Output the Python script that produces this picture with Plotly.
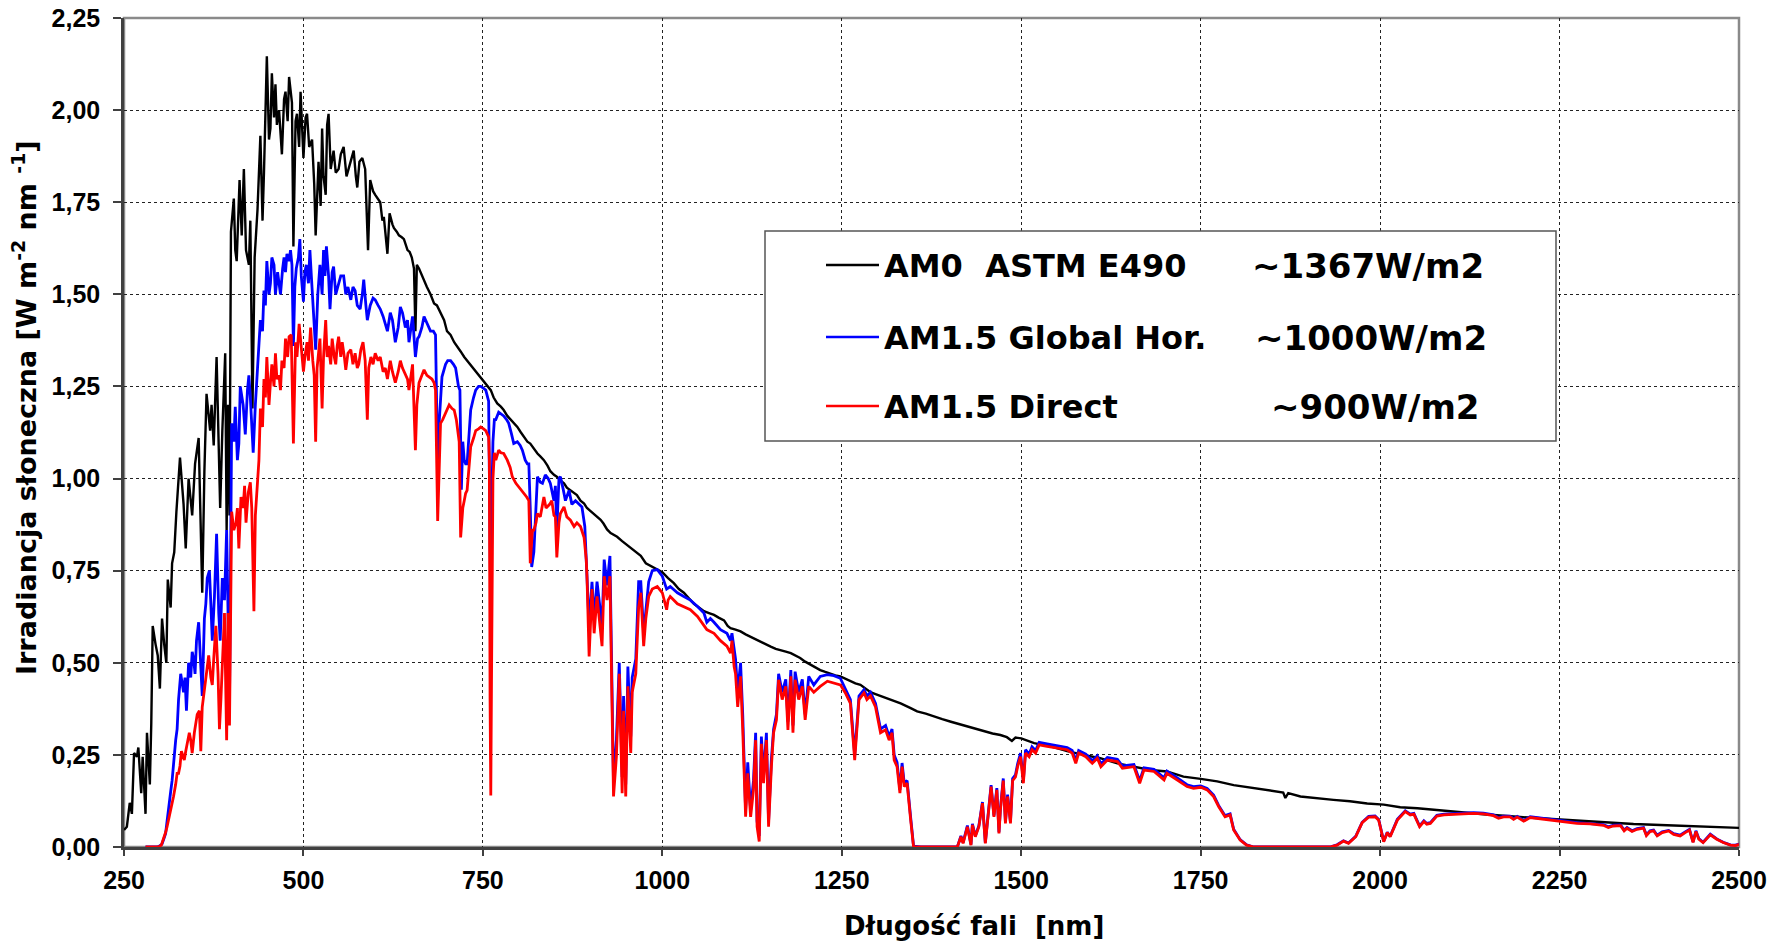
import plotly.graph_objects as go

# ---------------- data (wavelength nm, irradiance W m-2 nm-1) ----------------
AM0_UV = [(250,0.046),(254,0.055),(258,0.12),(261,0.09),(264,0.255),(268,0.245),(270,0.27),(274,0.146),
          (276,0.245),(280,0.09),(282,0.31),(286,0.17),(288,0.336),(290,0.60),(294,0.55),(297,0.52),
          (300,0.43),(303,0.62),(306,0.55),(309,0.50),(311,0.726),(315,0.65),(317,0.77),(320,0.80),
          (323,0.91),(325,0.976),(328,1.057),(333,0.93),(336,0.81),(340,1.0),(345,0.90),(349,1.04),
          (354,1.11),(359,0.69),(362,1.02),(365,1.23),(370,1.13),(372,1.20),(375,1.09),(379,1.33),
          (382,1.04),(384,0.92),(387,1.13),(391,1.34),(393,0.86),(395,1.20),(397,0.90)]
AM0_VIS = [(399,1.67),(403,1.76),(405,1.62),(407,1.59),(411,1.81),(414,1.66),(417,1.84),(420,1.62),
           (424,1.58),(426,1.70),(429,1.19),(432,1.60),(436,1.73),(440,1.93),(443,1.70),(445,1.83),
           (449,2.146),(452,1.92),(454,1.95),(456,2.10),(459,1.98),(461,2.07),(463,1.96),(466,2.00),
           (470,1.88),(473,2.03),(475,2.05),(478,1.97),(480,2.09),(484,2.02),(486,1.63),(489,1.97),
           (491,1.99),(494,1.90),(496,2.05),(500,1.87),(503,1.98),(505,1.99),(508,1.90),(512,1.92),
           (515,1.80),(517,1.66),(519,1.75),(521,1.86),(524,1.74),(526,1.95),(528,1.82),(531,1.77),
           (533,1.96),(535,1.99),(538,1.84),(542,1.89),(545,1.83),(549,1.84),(552,1.88),(556,1.90),
           (560,1.82),(563,1.84),(567,1.87),(570,1.89),(573,1.82),(575,1.79),(578,1.86),(582,1.87),
           (586,1.84),(590,1.62),(593,1.81),(597,1.78),(600,1.77),(604,1.76),(607,1.75),(610,1.70),
           (612,1.71),(617,1.61),(620,1.72),(624,1.69),(626,1.68),(630,1.67),(633,1.66),(637,1.655),
           (640,1.65),(645,1.62),(648,1.615),(651,1.60),(654,1.57),(656,1.40),(658,1.58),(661,1.57),
           (665,1.55),(668,1.54),(672,1.52),(677,1.50),(682,1.475),(686,1.47),(691,1.45),(696,1.43),
           (700,1.40),(705,1.39),(710,1.37),(714,1.36),(719,1.345),(724,1.33),(728,1.32),(733,1.31),
           (738,1.295),(742,1.285),(746,1.275),(751,1.265),(756,1.25),(761,1.24),(765,1.22),(770,1.204),
           (775,1.195),(779,1.186),(784,1.17),(789,1.16),(793,1.15),(798,1.14),(803,1.125),(807,1.113),
           (812,1.10),(816,1.095),(821,1.08),(826,1.068),(830,1.06),(835,1.05),(840,1.035),(844,1.02),
           (849,1.01),(853,1.005),(858,0.995),(863,0.987),(867,0.975),(872,0.968),(877,0.96),(881,0.955),
           (886,0.94),(891,0.932),(895,0.92),(900,0.912),(905,0.905),(909,0.898),(914,0.888),(918,0.878),
           (923,0.862),(928,0.852),(932,0.847),(937,0.842),(944,0.83),(948,0.824),(953,0.816),(958,0.81),
           (965,0.80),(970,0.79),(977,0.77),(982,0.765),(988,0.757),(994,0.752),(1000,0.746)]
AM0_IR = [(1008,0.73),(1016,0.716),(1023,0.70),(1030,0.69),(1037,0.675),(1044,0.66),(1051,0.65),
          (1058,0.64),(1065,0.635),(1072,0.63),(1079,0.622),(1086,0.615),(1091,0.60),(1095,0.594),
          (1102,0.59),(1109,0.585),(1116,0.577),(1123,0.57),(1130,0.563),(1137,0.558),(1144,0.55),
          (1151,0.544),(1158,0.538),(1165,0.535),(1172,0.53),(1179,0.526),(1186,0.52),(1192,0.513),
          (1199,0.503),(1206,0.495),(1213,0.487),(1220,0.48),(1227,0.475),(1234,0.47),(1241,0.466),
          (1248,0.463),(1255,0.456),(1262,0.45),(1269,0.444),(1276,0.44),(1283,0.43),(1290,0.42),
          (1297,0.415),(1304,0.41),(1311,0.405),(1318,0.40),(1325,0.395),(1332,0.39),(1346,0.377),
          (1355,0.368),(1367,0.362),(1378,0.354),(1390,0.347),(1402,0.34),(1413,0.334),(1425,0.327),
          (1437,0.32),(1448,0.313),(1460,0.308),(1471,0.304),(1480,0.298),(1487,0.288),(1492,0.297),
          (1500,0.295),(1518,0.282),(1541,0.273),(1564,0.26),(1587,0.25),(1610,0.241),(1634,0.227),
          (1657,0.218),(1680,0.209),(1703,0.205),(1726,0.191),(1750,0.185),(1773,0.178),(1796,0.168),
          (1819,0.162),(1842,0.155),(1865,0.148),(1868,0.133),(1872,0.146),(1889,0.137),(1912,0.132),
          (1935,0.128),(1958,0.124),(1982,0.118),(2005,0.115),(2028,0.108),(2052,0.105),(2098,0.096),
          (2144,0.089),(2191,0.082),(2250,0.075),(2307,0.067),(2353,0.0625),(2400,0.059),(2446,0.055),
          (2500,0.052)]

GLOBAL_UV = [(280,0.0),(296,0.0),(300,0.003),(303,0.008),(306,0.025),(308,0.037),(310,0.07),(312,0.11),
             (315,0.15),(317,0.18),(320,0.255),(322,0.29),(324,0.32),(326,0.40),(329,0.47),(331,0.44),
             (333,0.42),(335,0.46),(337,0.37),(340,0.50),(343,0.46),(345,0.53),(347,0.51),(349,0.47),
             (351,0.56),(354,0.61),(356,0.53),(358,0.47),(359,0.41),(362,0.62),(364,0.66),(366,0.73),
             (369,0.75),(371,0.66),(373,0.56),(376,0.68),(379,0.85),(382,0.635),(384,0.56),(387,0.73),
             (390,0.67),(393,0.86),(395,0.62),(397,0.40)]
GLOBAL_VIS = [(400,1.15),(403,1.10),(405,1.195),(408,1.05),(410,1.095),(412,1.25),(416,1.20),(419,1.12),
              (422,1.24),(424,1.28),(426,1.22),(430,1.07),(433,1.20),(436,1.31),(440,1.43),(443,1.40),
              (445,1.51),(447,1.47),(449,1.59),(452,1.50),(454,1.53),(456,1.60),(459,1.58),(461,1.50),
              (464,1.56),(466,1.53),(468,1.50),(471,1.57),(473,1.60),(475,1.56),(477,1.61),(480,1.59),
              (482,1.62),(484,1.58),(486,1.36),(488,1.52),(490,1.57),(493,1.60),(495,1.65),(497,1.55),
              (500,1.48),(502,1.56),(504,1.58),(507,1.53),(509,1.62),(511,1.55),(513,1.49),(517,1.35),
              (520,1.50),(523,1.58),(526,1.50),(528,1.62),(530,1.55),(532,1.63),(535,1.55),(537,1.46),
              (540,1.56),(542,1.575),(545,1.50),(549,1.53),(552,1.55),(556,1.55),(559,1.50),(562,1.52),
              (566,1.485),(569,1.52),(572,1.51),(575,1.47),(579,1.46),(582,1.50),(584,1.54),(587,1.47),
              (589,1.43),(591,1.45),(593,1.47),(597,1.49),(600,1.485),(604,1.47),(607,1.46),(611,1.44),
              (614,1.42),(617,1.40),(621,1.45),(624,1.43),(628,1.37),(632,1.41),(635,1.466),(638,1.45),
              (642,1.41),(645,1.43),(647,1.37),(650,1.42),(652,1.44),(656,1.33),(659,1.38),(661,1.385),
              (665,1.41),(668,1.44),(672,1.42),(677,1.40),(681,1.40),(684,1.39),(687,1.03),(689,1.15),
              (693,1.276),(698,1.31),(701,1.32),(705,1.32),(709,1.31),(712,1.30),(716,1.25),(718,1.24),
              (720,0.97),(722,1.10),(724,1.05),(726,1.04),(728,1.04),(731,1.15),(733,1.186),(737,1.22),
              (740,1.24),(744,1.25),(747,1.25),(751,1.245),(754,1.24),(758,1.21),(760,0.85),(761,0.64),
              (762,0.90),(764,1.10),(766,1.16),(768,1.16),(772,1.18),(775,1.175),(779,1.17),(783,1.16),
              (786,1.15),(790,1.12),(793,1.095),(798,1.10),(802,1.09),(805,1.077),(809,1.05),(812,1.04),
              (814,1.04),(816,0.92),(818,0.76),(821,0.80),(823,0.88),(826,1.005),(830,0.99),(833,0.987),
              (837,1.01),(841,1.00),(844,0.987),(847,0.96),(849,0.94),(851,0.98),(853,0.86),(856,1.00),
              (858,1.005),(862,0.97),(865,0.94),(870,0.968),(874,0.93),(879,0.94),(884,0.93),(888,0.923),
              (892,0.87),(895,0.744),(898,0.60),(902,0.72),(905,0.62),(909,0.72),(913,0.66),(916,0.60),
              (919,0.78),(923,0.71),(927,0.79),(930,0.45),(932,0.17),(936,0.29),(940,0.50),(944,0.19),
              (946,0.41),(949,0.17),(952,0.49),(956,0.30),(958,0.46),(963,0.51),(967,0.72),(970,0.72),
              (974,0.58),(977,0.64),(981,0.72),(986,0.75),(993,0.753),(1000,0.735)]
GLOBAL_NIR = [(1006,0.70),(1011,0.707),(1021,0.69),(1030,0.68),(1039,0.67),(1049,0.653),(1058,0.635),
              (1062,0.61),(1067,0.62),(1072,0.61),(1081,0.59),(1090,0.58),(1095,0.56),(1097,0.58),
              (1100,0.53),(1102,0.51),(1105,0.42),(1109,0.50),(1112,0.36),(1116,0.10),(1119,0.23),
              (1123,0.10),(1127,0.18),(1130,0.31),(1132,0.07),(1135,0.03),(1138,0.30),(1141,0.19),
              (1145,0.31),(1148,0.07),(1152,0.24),(1155,0.32),(1159,0.36),(1162,0.47),(1167,0.42),
              (1172,0.455),(1175,0.34),(1179,0.48),(1182,0.33),(1185,0.476),(1190,0.42),(1195,0.455),
              (1199,0.36),(1204,0.463),(1211,0.44),(1220,0.463),(1230,0.468),(1239,0.465),(1248,0.458),
              (1255,0.427),(1262,0.40),(1268,0.25),(1274,0.41),(1281,0.427),(1285,0.41),(1290,0.42),
              (1297,0.39),(1304,0.32),(1311,0.33),(1316,0.30),(1320,0.32),(1323,0.25),(1327,0.23),
              (1331,0.155),(1334,0.228),(1337,0.174),(1341,0.18),(1346,0.08),(1350,0.002)]
GLOBAL_IR = [(1360,0.0),(1411,0.0),(1416,0.03),(1419,0.012),(1425,0.058),(1430,0.007),(1432,0.063),
             (1436,0.03),(1441,0.058),(1446,0.122),(1450,0.012),(1455,0.113),(1458,0.168),(1462,0.085),
             (1466,0.16),(1469,0.04),(1471,0.104),(1475,0.186),(1478,0.068),(1481,0.142),(1485,0.068),
             (1488,0.186),(1492,0.196),(1495,0.226),(1499,0.255),(1503,0.18),(1506,0.264),(1511,0.252),
             (1515,0.272),(1520,0.262),(1525,0.284),(1536,0.28),(1550,0.275),(1564,0.27),(1571,0.262),
             (1576,0.235),(1580,0.262),(1590,0.252),(1599,0.234),(1606,0.248),(1611,0.225),(1620,0.243),
             (1634,0.238),(1641,0.22),(1657,0.224),(1665,0.18),(1671,0.215),(1685,0.211),(1699,0.188),
             (1703,0.206),(1717,0.188),(1731,0.169),(1740,0.164),(1750,0.166),(1759,0.159),(1768,0.141),
             (1775,0.113),(1784,0.085),(1791,0.09),(1796,0.048),(1805,0.02),(1814,0.006),(1824,0.0),
             (1930,0.0),(1940,0.006),(1949,0.017),(1956,0.011),(1966,0.029),(1975,0.067),(1984,0.083),
             (1993,0.084),(1998,0.075),(2005,0.016),(2010,0.04),(2014,0.029),(2024,0.075),(2035,0.098),
             (2042,0.089),(2047,0.091),(2055,0.057),(2061,0.071),(2065,0.064),(2070,0.066),(2079,0.086),
             (2089,0.089),(2103,0.091),(2116,0.093),(2130,0.093),(2144,0.092),(2158,0.087),(2165,0.08),
             (2172,0.084),(2181,0.084),(2186,0.077),(2191,0.083),(2200,0.072),(2209,0.082),(2223,0.079),
             (2237,0.075),(2256,0.071),(2274,0.066),(2293,0.064),(2311,0.061),(2318,0.055),(2325,0.059),
             (2335,0.06),(2340,0.046),(2344,0.053),(2351,0.044),(2358,0.05),(2367,0.053),(2371,0.033),
             (2376,0.044),(2381,0.046),(2386,0.032),(2393,0.041),(2402,0.045),(2409,0.036),(2418,0.032),
             (2425,0.041),(2431,0.048),(2436,0.014),(2440,0.044),(2444,0.023),(2450,0.013),(2460,0.035),
             (2469,0.022),(2478,0.013),(2488,0.006),(2495,0.005),(2500,0.008)]

DIRECT_UV = [(280,0.0),(298,0.0),(302,0.005),(305,0.02),(308,0.04),(310,0.055),(313,0.08),(315,0.10),
             (319,0.137),(322,0.17),(324,0.20),(326,0.20),(328,0.22),(330,0.26),(332,0.25),(334,0.236),
             (336,0.26),(338,0.28),(341,0.31),(343,0.29),(345,0.255),(348,0.31),(350,0.33),(352,0.36),
             (355,0.37),(357,0.26),(359,0.38),(361,0.41),(363,0.45),(365,0.47),(368,0.52),(371,0.46),
             (373,0.44),(375,0.51),(378,0.60),(381,0.47),(383,0.32),(385,0.40),(387,0.49),(390,0.635),
             (393,0.29),(395,0.635),(397,0.33)]
DIRECT_VIS = [(400,0.91),(403,0.86),(406,0.88),(408,0.92),(410,0.81),(413,0.95),(416,0.92),(418,0.98),
              (420,0.88),(423,0.96),(426,0.99),(428,0.92),(431,0.64),(433,0.90),(435,0.97),(438,1.05),
              (440,1.19),(443,1.14),(445,1.27),(447,1.22),(449,1.33),(452,1.20),(454,1.26),(456,1.31),
              (459,1.25),(461,1.34),(463,1.27),(466,1.28),(468,1.24),(470,1.32),(473,1.30),(475,1.38),
              (478,1.33),(480,1.385),(483,1.39),(486,1.095),(489,1.37),(491,1.33),(494,1.42),(497,1.36),
              (500,1.29),(502,1.33),(505,1.37),(507,1.32),(510,1.41),(513,1.32),(515,1.28),(517,1.10),
              (519,1.30),(523,1.38),(526,1.19),(528,1.33),(531,1.43),(533,1.33),(535,1.36),(538,1.31),
              (540,1.38),(543,1.33),(545,1.31),(547,1.36),(549,1.385),(552,1.33),(554,1.37),(557,1.33),
              (559,1.295),(562,1.34),(566,1.35),(569,1.31),(572,1.34),(575,1.30),(577,1.31),(580,1.35),
              (583,1.37),(586,1.32),(589,1.16),(591,1.30),(594,1.33),(597,1.31),(600,1.34),(604,1.32),
              (607,1.33),(611,1.29),(614,1.30),(617,1.27),(621,1.32),(624,1.29),(628,1.26),(632,1.29),
              (635,1.32),(638,1.30),(642,1.28),(645,1.27),(647,1.24),(650,1.29),(652,1.31),(656,1.077),
              (658,1.20),(661,1.26),(665,1.28),(668,1.295),(672,1.28),(675,1.276),(679,1.27),(682,1.26),
              (684,1.24),(687,0.885),(689,1.05),(691,1.15),(694,1.16),(698,1.18),(701,1.19),(703,1.20),
              (707,1.19),(710,1.186),(713,1.16),(715,1.13),(717,1.10),(719,0.84),(722,0.92),(724,0.94),
              (726,0.96),(728,0.968),(731,1.05),(733,1.086),(737,1.11),(740,1.13),(744,1.135),(747,1.14),
              (751,1.135),(754,1.13),(758,1.113),(759,1.05),(760,0.40),(761,0.14),(762,0.45),(764,1.00),
              (766,1.07),(768,1.05),(772,1.077),(775,1.07),(779,1.068),(784,1.05),(788,1.03),(791,1.005),
              (796,0.987),(800,0.977),(804,0.97),(807,0.96),(811,0.95),(814,0.94),(816,0.77),(819,0.86),
              (821,0.86),(824,0.88),(826,0.905),(830,0.896),(833,0.93),(835,0.95),(838,0.92),(840,0.923),
              (843,0.93),(846,0.94),(849,0.90),(851,0.896),(853,0.786),(856,0.88),(858,0.905),(863,0.923),
              (867,0.896),(872,0.887),(877,0.87),(881,0.88),(886,0.87),(891,0.84),(894,0.78),(895,0.735),
              (898,0.517),(902,0.70),(905,0.58),(909,0.68),(913,0.60),(916,0.545),(919,0.735),(923,0.67),
              (927,0.735),(930,0.40),(932,0.137),(936,0.245),(940,0.47),(944,0.146),(946,0.37),(949,0.137),
              (952,0.436),(956,0.255),(958,0.42),(963,0.47),(967,0.65),(970,0.69),(974,0.545),(977,0.62),
              (981,0.68),(986,0.70),(993,0.707),(1000,0.69)]
DIRECT_NIR = [(1006,0.644),(1008,0.67),(1011,0.68),(1021,0.66),(1030,0.653),(1039,0.644),(1049,0.626),
              (1058,0.60),(1062,0.59),(1067,0.585),(1072,0.58),(1081,0.56),(1090,0.545),(1095,0.526),
              (1097,0.56),(1100,0.49),(1102,0.47),(1105,0.38),(1109,0.463),(1112,0.32),(1116,0.082),
              (1119,0.20),(1123,0.082),(1127,0.155),(1130,0.29),(1132,0.055),(1135,0.015),(1138,0.28),
              (1141,0.173),(1145,0.29),(1148,0.055),(1152,0.22),(1155,0.31),(1159,0.345),(1162,0.454),
              (1167,0.40),(1172,0.436),(1175,0.318),(1179,0.463),(1182,0.31),(1185,0.454),(1190,0.40),
              (1195,0.436),(1199,0.345),(1204,0.436),(1211,0.42),(1220,0.436),(1230,0.45),(1239,0.445),
              (1248,0.44),(1255,0.418),(1262,0.39),(1268,0.236),(1274,0.40),(1281,0.418),(1285,0.40),
              (1290,0.41),(1297,0.38),(1304,0.31),(1311,0.318),(1316,0.29),(1320,0.31),(1323,0.236),
              (1327,0.218),(1331,0.146),(1334,0.218),(1337,0.164),(1341,0.173),(1346,0.073),(1350,0.0)]
DIRECT_IR = [(1360,0.0),(1411,0.0),(1416,0.028),(1419,0.01),(1425,0.055),(1430,0.005),(1432,0.06),
             (1436,0.028),(1441,0.055),(1446,0.119),(1450,0.01),(1455,0.11),(1458,0.164),(1462,0.082),
             (1466,0.155),(1469,0.037),(1471,0.10),(1475,0.18),(1478,0.064),(1481,0.137),(1485,0.064),
             (1488,0.18),(1492,0.19),(1495,0.218),(1499,0.245),(1503,0.173),(1506,0.255),(1511,0.245),
             (1515,0.264),(1520,0.255),(1525,0.277),(1536,0.273),(1550,0.268),(1564,0.264),(1571,0.255),
             (1576,0.227),(1580,0.255),(1590,0.245),(1599,0.227),(1606,0.241),(1611,0.218),(1620,0.236),
             (1634,0.232),(1641,0.214),(1657,0.218),(1665,0.173),(1671,0.209),(1685,0.205),(1699,0.182),
             (1703,0.20),(1717,0.182),(1731,0.164),(1740,0.159),(1750,0.162),(1759,0.155),(1768,0.137),
             (1775,0.11),(1784,0.082),(1791,0.087),(1796,0.046),(1805,0.019),(1814,0.005),(1824,0.0),
             (1930,0.0),(1940,0.005),(1949,0.016),(1956,0.01),(1966,0.028),(1975,0.066),(1984,0.081),
             (1993,0.082),(1998,0.073),(2005,0.0145),(2010,0.039),(2014,0.028),(2024,0.073),(2035,0.096),
             (2042,0.087),(2047,0.089),(2055,0.055),(2061,0.069),(2065,0.062),(2070,0.064),(2079,0.084),
             (2089,0.087),(2103,0.089),(2116,0.0915),(2130,0.0915),(2144,0.09),(2158,0.085),(2165,0.078),
             (2172,0.082),(2181,0.082),(2186,0.075),(2191,0.081),(2200,0.07),(2209,0.08),(2223,0.077),
             (2237,0.073),(2256,0.069),(2274,0.064),(2293,0.0625),(2311,0.059),(2318,0.053),(2325,0.057),
             (2335,0.058),(2340,0.044),(2344,0.051),(2351,0.042),(2358,0.048),(2367,0.051),(2371,0.031),
             (2376,0.042),(2381,0.044),(2386,0.03),(2393,0.039),(2402,0.0435),(2409,0.034),(2418,0.03),
             (2425,0.039),(2431,0.046),(2436,0.0127),(2440,0.042),(2444,0.021),(2450,0.012),(2460,0.033),
             (2469,0.021),(2478,0.012),(2488,0.005),(2495,0.004),(2500,0.007)]

SERIES_NAMES = ["AM0  ASTM E490", "AM1.5 Global Hor.", "AM1.5 Direct"]
SERIES_TOTALS = ["~1367W/m2", "~1000W/m2", "~900W/m2"]
SERIES_COLORS = ["#000000", "#0000FF", "#FF0000"]

X_TICKS = [250, 500, 750, 1000, 1250, 1500, 1750, 2000, 2250, 2500]
X_TICKTEXT = ["250", "500", "750", "1000", "1250", "1500", "1750", "2000", "2250", "2500"]
Y_TICKS = [0, 0.25, 0.5, 0.75, 1.0, 1.25, 1.5, 1.75, 2.0, 2.25]
Y_TICKTEXT = ["0,00", "0,25", "0,50", "0,75", "1,00", "1,25", "1,50", "1,75", "2,00", "2,25"]

X_TITLE = "Długość fali  [nm]"
Y_TITLE = "Irradiancja słoneczna [W m<sup>-2</sup> nm <sup>-1</sup>]"

# ---------------- figure ----------------
W, H = 1785, 942
PL, PR, PT, PB = 124, 1739, 18, 847   # plot area in pixels


def pxx(px):
    return (px - PL) / (PR - PL)


def pxy(py):
    return (PB - py) / (PB - PT)


series = [AM0_UV + AM0_VIS + AM0_IR,
          GLOBAL_UV + GLOBAL_VIS + GLOBAL_NIR + GLOBAL_IR,
          DIRECT_UV + DIRECT_VIS + DIRECT_NIR + DIRECT_IR]
widths = [2.4, 2.8, 2.8]

fig = go.Figure()
for pts, name, col, w in zip(series, SERIES_NAMES, SERIES_COLORS, widths):
    fig.add_trace(go.Scatter(
        x=[p[0] for p in pts], y=[p[1] for p in pts], mode="lines", name=name,
        line=dict(color=col, width=w), showlegend=False, hoverinfo="x+y"))

TICK_FONT = dict(family="Liberation Sans, Arial, sans-serif", size=25, color="black", weight="bold")
TITLE_FONT = "DejaVu Sans, Verdana, sans-serif"

fig.update_xaxes(range=[250, 2500], tickmode="array", tickvals=X_TICKS, ticktext=X_TICKTEXT,
                 ticks="outside", ticklen=6, tickwidth=1.5, tickcolor="#404040",
                 tickfont=TICK_FONT, ticklabelstandoff=3, automargin=False,
                 showgrid=True, gridcolor="#222222", gridwidth=1, griddash="dot",
                 showline=True, linecolor="#404040", linewidth=2.5, zeroline=False)
fig.update_yaxes(range=[0, 2.25], tickmode="array", tickvals=Y_TICKS, ticktext=Y_TICKTEXT,
                 ticks="outside", ticklen=8, tickwidth=1.5, tickcolor="#404040",
                 tickfont=TICK_FONT, ticklabelstandoff=8, automargin=False,
                 showgrid=True, gridcolor="#222222", gridwidth=1, griddash="dot",
                 showline=True, linecolor="#404040", linewidth=2.5, zeroline=False)

shapes = [
    dict(type="rect", xref="paper", yref="paper", x0=0, x1=1, y0=0, y1=1,
         line=dict(color="#8a8a8a", width=2.5), fillcolor="rgba(0,0,0,0)", layer="below"),
    dict(type="rect", xref="paper", yref="paper", x0=pxx(765), x1=pxx(1556), y0=pxy(441), y1=pxy(231),
         line=dict(color="#555555", width=1.5), fillcolor="white", layer="above"),
]
annotations = []
row_y = [265, 337, 406]
total_x = [1250, 1253, 1269]
for i in range(3):
    shapes.append(dict(type="line", xref="paper", yref="paper", x0=pxx(826), x1=pxx(879),
                       y0=pxy(row_y[i]), y1=pxy(row_y[i]),
                       line=dict(color=SERIES_COLORS[i], width=2.5), layer="above"))
    annotations.append(dict(xref="paper", yref="paper", x=pxx(882), y=pxy(row_y[i] + 1),
                            text=SERIES_NAMES[i], showarrow=False, xanchor="left", yanchor="middle",
                            font=dict(family=TITLE_FONT, size=32, color="black", weight="bold")))
    annotations.append(dict(xref="paper", yref="paper", x=pxx(total_x[i]), y=pxy(row_y[i] + 1),
                            text=SERIES_TOTALS[i], showarrow=False, xanchor="left", yanchor="middle",
                            font=dict(family=TITLE_FONT, size=34, color="black", weight="bold")))

annotations.append(dict(xref="paper", yref="paper", x=pxx(974), y=pxy(926), text=X_TITLE,
                        showarrow=False, xanchor="center", yanchor="middle",
                        font=dict(family=TITLE_FONT, size=26, color="black", weight="bold")))
annotations.append(dict(xref="paper", yref="paper", x=pxx(25), y=pxy(408), text=Y_TITLE,
                        showarrow=False, xanchor="center", yanchor="middle", textangle=-90,
                        font=dict(family=TITLE_FONT, size=27, color="black", weight="bold")))

fig.update_layout(width=W, height=H, autosize=False,
                  margin=dict(l=PL, r=W - PR, t=PT, b=H - PB, autoexpand=False),
                  paper_bgcolor="white", plot_bgcolor="white",
                  shapes=shapes, annotations=annotations, showlegend=False)

fig.write_html("out.html", config={"displayModeBar": False},
               post_script="document.body.style.margin='0px';document.body.style.overflow='hidden';")
